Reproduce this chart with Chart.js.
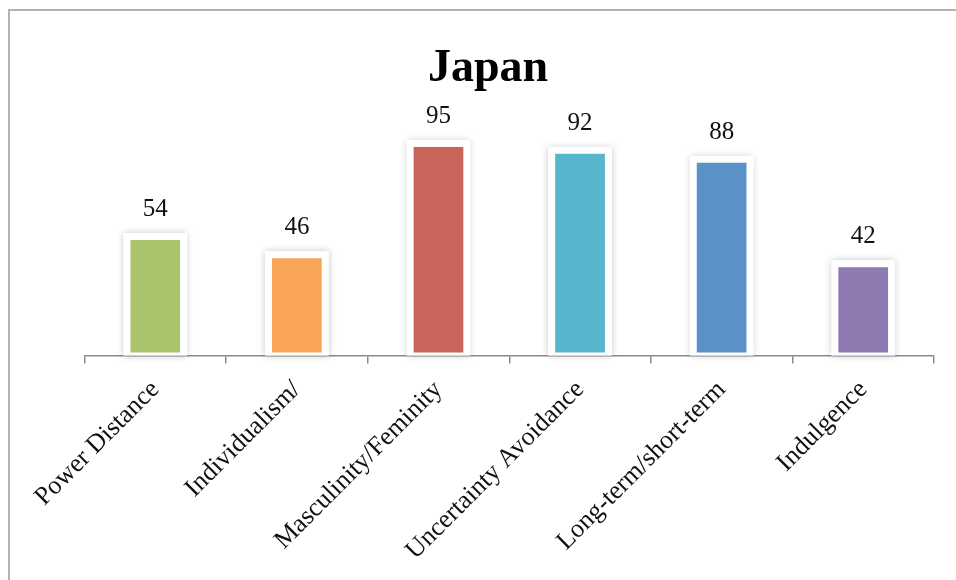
<!DOCTYPE html>
<html>
<head>
<meta charset="utf-8">
<title>Japan</title>
<script src="https://cdn.jsdelivr.net/npm/chart.js@4.4.1/dist/chart.umd.min.js"></script>
<style>
  html, body { margin: 0; padding: 0; background: #fff; overflow: hidden; }
  #wrap { position: relative; width: 956px; height: 580px; }
  #frame {
    position: absolute; left: 8px; top: 9px; width: 1000px; height: 1000px;
    border-left: 2px solid #b2b2b2; border-top: 2px solid #b2b2b2;
  }
  #chart { position: absolute; left: 0; top: 0; }
</style>
</head>
<body>
<div id="wrap">
  <div id="frame"></div>
  <canvas id="chart" width="956" height="580"></canvas>
</div>
<script>
const categories = [
  "Power Distance",
  "Individualism/",
  "Masculinity/Feminity",
  "Uncertainty Avoidance",
  "Long-term/short-term",
  "Indulgence"
];
const scores = [54, 46, 95, 92, 88, 42];
const barColors = ["#a9c46b", "#f8a656", "#c8645a", "#57b6cd", "#5a91c6", "#8e79b1"];

const serif = '"Liberation Serif", "Times New Roman", serif';
const axisGray = "#8a8a8a";

// soft grey glow behind each white-bordered bar
const barGlow = {
  id: "barGlow",
  beforeDatasetsDraw(chart) {
    const ctx = chart.ctx;
    chart.getDatasetMeta(0).data.forEach(bar => {
      const { x, y, base, width } = bar.getProps(["x", "y", "base", "width"], true);
      ctx.save();
      ctx.shadowColor = "rgba(0, 0, 0, 0.22)";
      ctx.shadowBlur = 7;
      ctx.fillStyle = "#fff";
      ctx.fillRect(x - width / 2, y, width, base - y);
      ctx.restore();
    });
  }
};

// score printed above each bar
const valueLabels = {
  id: "valueLabels",
  afterDatasetsDraw(chart) {
    const ctx = chart.ctx;
    const values = chart.data.datasets[0].data;
    ctx.save();
    ctx.font = "25px " + serif;
    ctx.fillStyle = "#111";
    ctx.textAlign = "center";
    ctx.textBaseline = "alphabetic";
    chart.getDatasetMeta(0).data.forEach((bar, i) => {
      ctx.fillText(String(values[i]), bar.x, bar.y - 17);
    });
    ctx.restore();
  }
};

const layoutPadding = { top: 0, right: 22, bottom: 0, left: 42 };

new Chart(document.getElementById("chart"), {
  type: "bar",
  data: {
    labels: categories,
    datasets: [{
      data: scores,
      backgroundColor: barColors,
      borderColor: "#fff",
      borderWidth: { top: 7, left: 7, right: 7, bottom: 3 },
      borderSkipped: false,
      categoryPercentage: 1,
      barPercentage: 0.45
    }]
  },
  options: {
    responsive: false,
    animation: false,
    layout: { padding: layoutPadding },
    plugins: {
      legend: { display: false },
      tooltip: { enabled: false },
      title: {
        display: true,
        text: "Japan",
        color: "#000",
        font: { family: serif, size: 46, weight: "bold" },
        padding: { top: 42, bottom: 31.4 }
      }
    },
    scales: {
      x: {
        grid: {
          offset: true,
          drawOnChartArea: false,
          tickLength: 8,
          color: axisGray,
          lineWidth: 1.5
        },
        border: { color: axisGray, width: 1.5 },
        ticks: {
          minRotation: 45,
          maxRotation: 45,
          padding: 11,
          color: "#111",
          font: { family: serif, size: 26 }
        },
        afterFit(scale) {
          scale.height = 580 - 355.6 - layoutPadding.bottom;
        }
      },
      y: {
        min: 0,
        max: 100,
        grid: { display: false },
        border: { display: false },
        ticks: { display: false },
        afterFit(scale) {
          scale.width = 42.5;
        }
      }
    }
  },
  plugins: [barGlow, valueLabels]
});
</script>
</body>
</html>
